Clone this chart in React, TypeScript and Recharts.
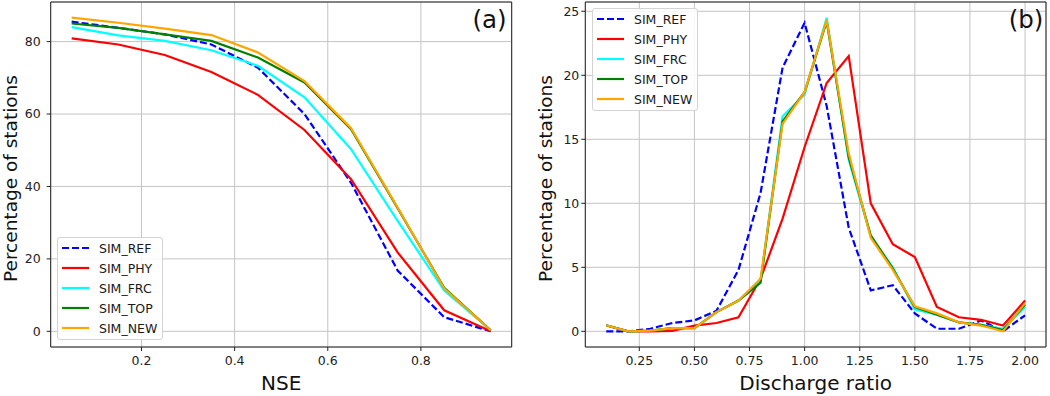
import { LineChart, Line, XAxis, YAxis, CartesianGrid, ReferenceArea, Legend, Label } from 'recharts'

const FONT = "'DejaVu Sans', sans-serif"
const INK = '#222222'

// ── data ───────────────────────────────────────────────────────────

const NSE_BINS = [0.05, 0.15, 0.25, 0.35, 0.45, 0.55, 0.65, 0.75, 0.85, 0.95]
const NSE_REF = [85.5, 83.8, 82.0, 79.2, 72.8, 60.0, 41.0, 16.8, 3.9, 0.0]
const NSE_PHY = [80.9, 79.2, 76.3, 71.6, 65.3, 55.6, 42.0, 21.8, 5.8, 0.0]
const NSE_FRC = [84.0, 81.7, 80.2, 77.6, 73.3, 64.6, 50.3, 30.5, 11.3, 0.3]
const NSE_TOP = [85.0, 83.8, 82.0, 80.2, 75.6, 68.7, 55.8, 34.0, 12.0, 0.3]
const NSE_NEW = [86.6, 85.2, 83.6, 81.8, 77.0, 69.1, 56.1, 34.2, 11.8, 0.3]

const RATIO_BINS = [0.1, 0.2, 0.3, 0.4, 0.5, 0.6, 0.7, 0.8, 0.9, 1.0, 1.1, 1.2, 1.3, 1.4, 1.5, 1.6, 1.7, 1.8, 1.9, 2.0]
const RATIO_REF = [0, 0, 0.2, 0.65, 0.85, 1.6, 4.8, 10.8, 20.6, 24.1, 17.6, 8.1, 3.2, 3.6, 1.4, 0.2, 0.2, 0.85, 0, 1.25]
const RATIO_PHY = [0.45, 0, 0, 0.03, 0.45, 0.65, 1.1, 4.1, 8.8, 14.4, 19.4, 21.5, 10.0, 6.8, 5.8, 1.9, 1.1, 0.9, 0.45, 2.4]
const RATIO_FRC = [0.47, 0, 0.05, 0.25, 0.25, 1.5, 2.4, 3.9, 16.8, 18.5, 24.5, 13.4, 7.4, 5.0, 1.7, 1.3, 0.7, 0.5, 0.2, 1.9]
const RATIO_TOP = [0.47, 0, 0.05, 0.25, 0.25, 1.5, 2.4, 3.8, 16.4, 18.7, 24.2, 13.6, 7.5, 4.9, 1.9, 1.3, 0.7, 0.5, 0.1, 2.1]
const RATIO_NEW = [0.47, 0, 0.05, 0.25, 0.25, 1.5, 2.4, 4.1, 16.2, 18.7, 24.3, 13.9, 7.3, 4.8, 1.95, 1.4, 0.7, 0.45, 0, 2.2]

const NSE_TICKS = [0.2, 0.4, 0.6, 0.8]
const NSE_Y_TICKS = [0, 20, 40, 60, 80]
const RATIO_TICKS = [0.25, 0.5, 0.75, 1.0, 1.25, 1.5, 1.75, 2.0]
const RATIO_Y_TICKS = [0, 5, 10, 15, 20, 25]

const SERIES = [
  { key: 'SIM_REF', color: '#0000ff', dash: '7 3' },
  { key: 'SIM_PHY', color: '#ff0000' },
  { key: 'SIM_FRC', color: '#00ffff' },
  { key: 'SIM_TOP', color: '#008000' },
  { key: 'SIM_NEW', color: '#ffa500' },
]

const toRows = (xs: number[], cols: number[][]) =>
  xs.map((x, i) => {
    const row: Record<string, number> = { x }
    SERIES.forEach((s, j) => { row[s.key] = cols[j][i] })
    return row
  })

const nseRows = toRows(NSE_BINS, [NSE_REF, NSE_PHY, NSE_FRC, NSE_TOP, NSE_NEW])
const ratioRows = toRows(RATIO_BINS, [RATIO_REF, RATIO_PHY, RATIO_FRC, RATIO_TOP, RATIO_NEW])

// ── legend box (matplotlib style) ─────────────────────────────────

function LegendBox() {
  return (
    <div
      style={{
        border: '1px solid #d4d4d4',
        borderRadius: 3,
        background: 'rgba(255,255,255,0.85)',
        padding: '0 5px 1px 4px',
        fontFamily: FONT,
        fontSize: 12.5,
        color: '#1a1a1a',
      }}
    >
      {SERIES.map(s => (
        <div key={s.key} style={{ display: 'flex', alignItems: 'center', height: 20 }}>
          <svg width={27} height={4} style={{ marginRight: 10 }}>
            <line x1={0} y1={2} x2={27} y2={2} stroke={s.color} strokeWidth={2.2} strokeDasharray={s.dash} />
          </svg>
          <span>{s.key}</span>
        </div>
      ))}
    </div>
  )
}

// ── one panel ─────────────────────────────────────────────────────

type PanelProps = {
  data: Record<string, number>[]
  xDomain: [number, number]
  yDomain: [number, number]
  xTicks: number[]
  yTicks: number[]
  xDigits: number
  xLabel: string
  tag: string
  tagInset: number
  yAxisWidth: number
  yTickMargin: number
  yLabelX: number
  rightMargin: number
  legendAt: { left: number; top: number }
}

function Panel(p: PanelProps) {
  const tickStyle = { fill: INK, fontSize: 12.5, fontFamily: FONT }
  return (
    <LineChart
      width={525}
      height={396}
      data={p.data}
      margin={{ top: 2, right: p.rightMargin, bottom: 0, left: 0 }}
    >
      <CartesianGrid stroke="#c4c4c4" strokeWidth={1} />
      <XAxis
        dataKey="x"
        type="number"
        domain={p.xDomain}
        ticks={p.xTicks}
        interval={0}
        allowDataOverflow
        height={49}
        tick={tickStyle}
        tickFormatter={(v: number) => v.toFixed(p.xDigits)}
        tickSize={4}
        tickMargin={5.5}
        tickLine={{ stroke: INK }}
        axisLine={false}
      >
        <Label
          content={(props: any) => {
            const vb = props.viewBox ?? { x: 0, y: 0, width: 0, height: 0 }
            return (
              <text x={vb.x + vb.width / 2} y={vb.y + 43} textAnchor="middle" fontFamily={FONT} fontSize={20} fill="#111">
                {p.xLabel}
              </text>
            )
          }}
        />
      </XAxis>
      <YAxis
        type="number"
        domain={p.yDomain}
        ticks={p.yTicks}
        interval={0}
        allowDataOverflow
        width={p.yAxisWidth}
        tick={tickStyle}
        tickSize={4}
        tickMargin={p.yTickMargin}
        tickLine={{ stroke: INK }}
        axisLine={false}
      >
        <Label
          content={(props: any) => {
            const vb = props.viewBox ?? { x: 0, y: 0, width: 0, height: 0 }
            const x = vb.x + p.yLabelX
            const y = vb.y + vb.height / 2 + 4
            return (
              <text x={x} y={y} transform={`rotate(-90, ${x}, ${y})`} textAnchor="middle" fontFamily={FONT} fontSize={18.5} fill="#111">
                Percentage of stations
              </text>
            )
          }}
        />
      </YAxis>
      <ReferenceArea
        x1={p.xDomain[0]}
        x2={p.xDomain[1]}
        y1={p.yDomain[0]}
        y2={p.yDomain[1]}
        fill="none"
        fillOpacity={0}
        stroke={INK}
        strokeWidth={1}
        ifOverflow="visible"
      >
        <Label
          content={(props: any) => {
            const vb = props.viewBox ?? { x: 0, y: 0, width: 0, height: 0 }
            return (
              <text x={vb.x + vb.width - p.tagInset} y={vb.y + 25.5} textAnchor="end" fontFamily={FONT} fontSize={24.5} fill="#111">
                {p.tag}
              </text>
            )
          }}
        />
      </ReferenceArea>
      {SERIES.map(s => (
        <Line
          key={s.key}
          dataKey={s.key}
          type="linear"
          stroke={s.color}
          strokeWidth={2.2}
          strokeDasharray={s.dash}
          dot={false}
          activeDot={false}
          isAnimationActive={false}
        />
      ))}
      <Legend
        layout="vertical"
        align="center"
        verticalAlign="middle"
        wrapperStyle={{ left: p.legendAt.left, top: p.legendAt.top, width: 'auto', height: 'auto' }}
        content={() => <LegendBox />}
      />
    </LineChart>
  )
}

export default function App() {
  return (
    <div style={{ position: 'absolute', left: 0, top: 0, width: 1050, height: 396, background: '#fff', display: 'flex' }}>
      <Panel
        data={nseRows}
        xDomain={[0.005, 0.995]}
        yDomain={[-4.33, 90.93]}
        xTicks={NSE_TICKS}
        yTicks={NSE_Y_TICKS}
        xDigits={1}
        xLabel="NSE"
        tag="(a)"
        tagInset={5}
        yAxisWidth={50.7}
        yTickMargin={6}
        yLabelX={16.5}
        rightMargin={13.3}
        legendAt={{ left: 57, top: 237 }}
      />
      <Panel
        data={ratioRows}
        xDomain={[0.005, 2.095]}
        yDomain={[-1.225, 25.725]}
        xTicks={RATIO_TICKS}
        yTicks={RATIO_Y_TICKS}
        xDigits={2}
        xLabel="Discharge ratio"
        tag="(b)"
        tagInset={2.7}
        yAxisWidth={60.3}
        yTickMargin={2}
        yLabelX={26.5}
        rightMargin={4}
        legendAt={{ left: 67, top: 8 }}
      />
    </div>
  )
}
